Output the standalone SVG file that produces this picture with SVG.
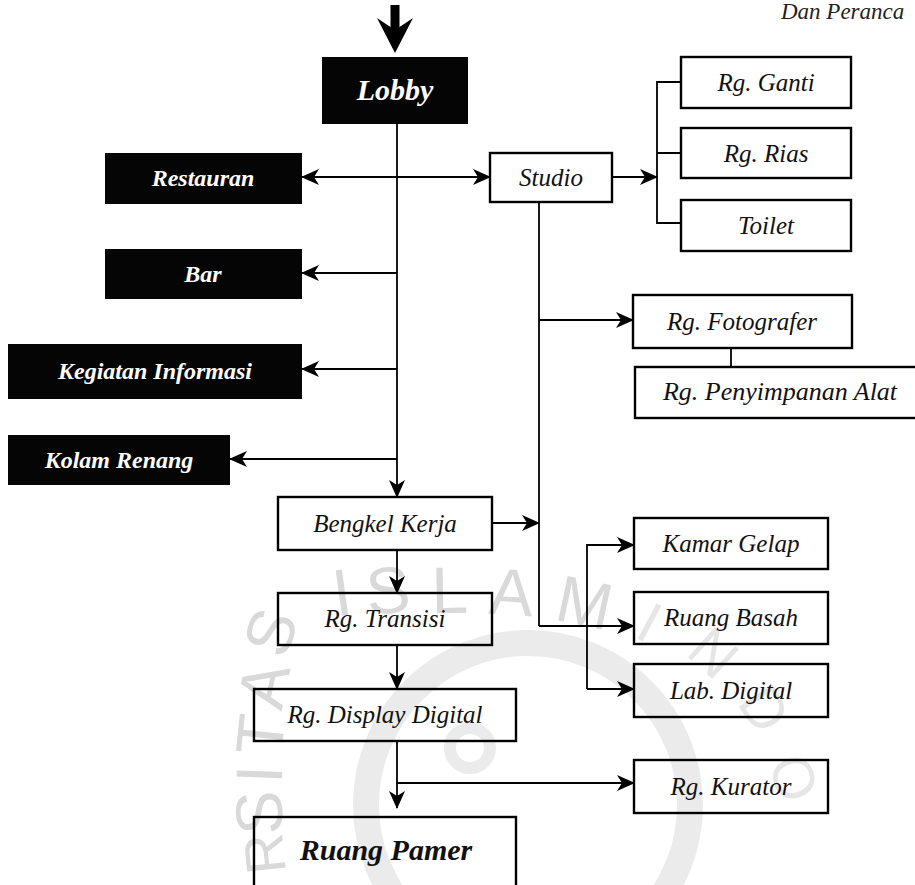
<svg xmlns="http://www.w3.org/2000/svg" width="915" height="885" viewBox="0 0 915 885">
  <defs>
    <marker id="head" viewBox="0 0 18 18" refX="17" refY="9" markerWidth="18" markerHeight="18" markerUnits="userSpaceOnUse" orient="auto-start-reverse">
      <path d="M0,1 L18,9 L0,17 L5,9 z" fill="#000"/>
    </marker>
    <style>
      .dark rect { fill: #050505; }
      .dark text { fill: #fff; font-family: "Liberation Serif", "Times New Roman", serif; font-style: italic; font-weight: bold; font-size: 24px; text-anchor: middle; }
      .room rect { fill: none; stroke: #000; stroke-width: 2.4; }
      .room text { fill: #111; font-family: "Liberation Serif", "Times New Roman", serif; font-style: italic; font-size: 25px; text-anchor: middle; }
      .big text { font-weight: bold; font-size: 30px; }
      .links path { fill: none; stroke: #000; stroke-width: 1.8; }
      .arrow { marker-end: url(#head); }
      .both { marker-start: url(#head); marker-end: url(#head); }
      .wm text { fill: #d9d9d9; font-family: "Liberation Sans", Arial, sans-serif; font-size: 66px; text-anchor: middle; }
      .wm .faint { fill: #e6e6e6; font-size: 58px; }
      .wm circle { fill: none; stroke: #ebebeb; }
    </style>
  </defs>

  <rect width="915" height="885" fill="#fff"/>

  <!-- faint background seal -->
  <g class="wm">
    <circle cx="528" cy="805" r="162" stroke-width="26"/>
    <circle cx="470" cy="748" r="20" stroke-width="12"/>
    <text transform="translate(345,615) rotate(-8)">I</text>
    <text transform="translate(390,613) rotate(-5)">S</text>
    <text transform="translate(450,613) rotate(-1)">L</text>
    <text transform="translate(510,615) rotate(4)">A</text>
    <text transform="translate(580,625) rotate(12)">M</text>
    <text transform="translate(292,640) rotate(-70)">S</text>
    <text transform="translate(286,690) rotate(-78)">A</text>
    <text transform="translate(283,737) rotate(-84)">T</text>
    <text transform="translate(282,775) rotate(-88)">I</text>
    <text transform="translate(282,812) rotate(-92)">S</text>
    <text transform="translate(284,852) rotate(-96)" style="font-size:56px">R</text>
    <text class="faint" transform="translate(640,640) rotate(28)">I</text>
    <text class="faint" transform="translate(700,668) rotate(42)">N</text>
    <text class="faint" transform="translate(748,720) rotate(56)">D</text>
    <text class="faint" transform="translate(775,785) rotate(70)">O</text>
  </g>

  <!-- page heading fragment -->
  <text x="781" y="19" font-family="'Liberation Serif', 'Times New Roman', serif" font-style="italic" font-size="23" fill="#222">Dan Peranca</text>

  <!-- connectors -->
  <g id="connectors" class="links">
    <!-- entrance arrow -->
    <path d="M395,5 V32" style="stroke-width:9"/>
    <polygon points="377,18 395,53 413,18 395,30" fill="#000"/>
    <!-- main spine from lobby -->
    <path class="arrow" d="M397,124 V497"/>
    <path class="both" d="M302,177 H490"/>
    <path class="arrow" d="M397,273 H302"/>
    <path class="arrow" d="M397,369 H302"/>
    <path class="arrow" d="M397,459 H230"/>
    <!-- studio services -->
    <path class="arrow" d="M612,177 H657"/>
    <path d="M681,82 H657 V223 H681 M657,153 H681"/>
    <!-- studio production line -->
    <path d="M539,202 V626"/>
    <path class="arrow" d="M539,320 H633"/>
    <path d="M731,348 V367"/>
    <path class="arrow" d="M492,523 H539"/>
    <path class="arrow" d="M539,626 H634"/>
    <path d="M634,545 H587 V689"/>
    <path class="arrow" d="M587,545 H634"/>
    <path class="arrow" d="M587,689 H634"/>
    <!-- exhibition sequence -->
    <path class="arrow" d="M397,550 V593"/>
    <path class="arrow" d="M397,645 V689"/>
    <path class="arrow" d="M397,741 V808"/>
    <path class="arrow" d="M397,783 H634"/>
  </g>

  <!-- public facilities -->
  <g id="lobby" class="dark big"><rect x="322" y="57" width="146" height="67"/><text x="395" y="100">Lobby</text></g>
  <g id="restauran" class="dark"><rect x="105" y="153" width="197" height="51"/><text x="203" y="186">Restauran</text></g>
  <g id="bar" class="dark"><rect x="105" y="249" width="197" height="50"/><text x="203" y="282">Bar</text></g>
  <g id="kegiatan-informasi" class="dark"><rect x="8" y="344" width="294" height="55"/><text x="155" y="379">Kegiatan Informasi</text></g>
  <g id="kolam-renang" class="dark"><rect x="8" y="435" width="222" height="50"/><text x="119" y="468">Kolam Renang</text></g>

  <!-- studio block -->
  <g id="studio" class="room"><rect x="490" y="153" width="122" height="49"/><text x="551" y="186">Studio</text></g>
  <g id="rg-ganti" class="room"><rect x="681" y="57" width="170" height="51"/><text x="766" y="91">Rg. Ganti</text></g>
  <g id="rg-rias" class="room"><rect x="681" y="128" width="170" height="50"/><text x="766" y="162">Rg. Rias</text></g>
  <g id="toilet" class="room"><rect x="681" y="200" width="170" height="51"/><text x="766" y="234">Toilet</text></g>
  <g id="rg-fotografer" class="room"><rect x="633" y="295" width="219" height="53"/><text x="742" y="330">Rg. Fotografer</text></g>
  <g id="rg-penyimpanan-alat" class="room"><rect x="635" y="367" width="300" height="51"/><text x="780" y="400" style="font-size:26px">Rg. Penyimpanan Alat</text></g>

  <!-- photo lab -->
  <g id="kamar-gelap" class="room"><rect x="634" y="518" width="194" height="51"/><text x="731" y="552">Kamar Gelap</text></g>
  <g id="ruang-basah" class="room"><rect x="634" y="592" width="194" height="52"/><text x="731" y="626">Ruang Basah</text></g>
  <g id="lab-digital" class="room"><rect x="634" y="664" width="194" height="53"/><text x="731" y="699">Lab. Digital</text></g>
  <g id="rg-kurator" class="room"><rect x="634" y="760" width="194" height="53"/><text x="731" y="795">Rg. Kurator</text></g>

  <!-- exhibition sequence -->
  <g id="bengkel-kerja" class="room"><rect x="278" y="497" width="214" height="53"/><text x="385" y="532">Bengkel Kerja</text></g>
  <g id="rg-transisi" class="room"><rect x="278" y="593" width="214" height="52"/><text x="385" y="627">Rg. Transisi</text></g>
  <g id="rg-display-digital" class="room"><rect x="254" y="689" width="262" height="52"/><text x="385" y="723">Rg. Display Digital</text></g>
  <g id="ruang-pamer" class="room big"><rect x="254" y="817" width="262" height="90"/><text x="386" y="860">Ruang Pamer</text></g>
</svg>
